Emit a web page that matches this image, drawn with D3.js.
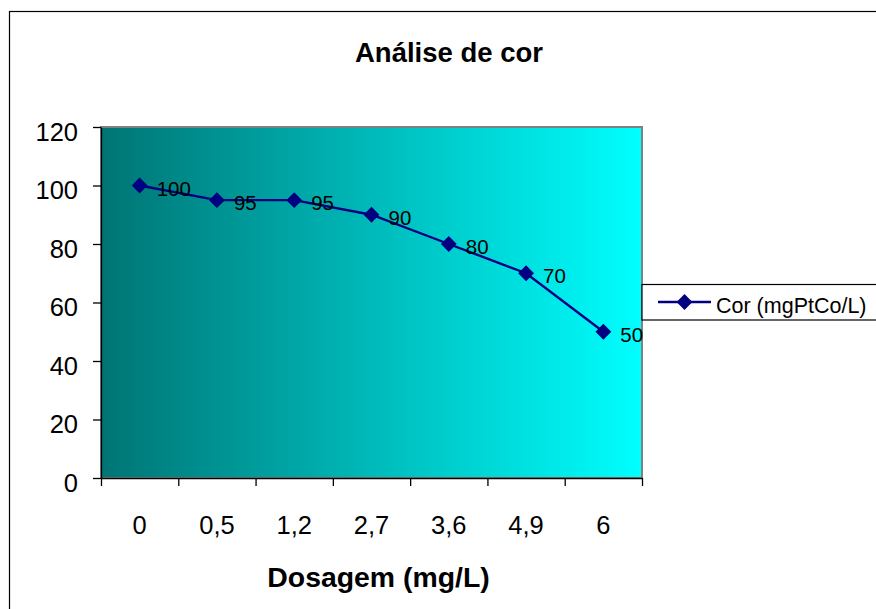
<!DOCTYPE html>
<html>
<head>
<meta charset="utf-8">
<script src="https://cdn.jsdelivr.net/npm/d3@7"></script>
<style>
  html, body { margin: 0; padding: 0; background: #fff; }
  svg { display: block; font-family: "Liberation Sans", Arial, Helvetica, sans-serif; }
</style>
</head>
<body>
<svg id="chart" width="876" height="609"></svg>
<script>
// Dosagem (mg/L) categories and measured colour values
const categories = ["0", "0,5", "1,2", "2,7", "3,6", "4,9", "6"];
const corValues = [100, 95, 95, 90, 80, 70, 50];
const yTicks = [0, 20, 40, 60, 80, 100, 120];
const seriesName = "Cor (mgPtCo/L)";
const chartTitle = "Análise de cor";
const xTitle = "Dosagem (mg/L)";

const svg = d3.select("#chart");
const plot = { left: 101, top: 127, right: 642, bottom: 478 };

// outer chart frame (runs off the right and bottom edges)
svg.append("rect")
  .attr("x", 9.5).attr("y", 11.5)
  .attr("width", 900).attr("height", 700)
  .attr("fill", "#fff").attr("stroke", "#000").attr("stroke-width", 1.2);

// teal -> turquoise gradient fill of the plot area
const defs = svg.append("defs");
const grad = defs.append("linearGradient").attr("id", "plotFill")
  .attr("x1", "0%").attr("x2", "100%").attr("y1", "0%").attr("y2", "0%");
grad.append("stop").attr("offset", "0%").attr("stop-color", "#007474");
grad.append("stop").attr("offset", "100%").attr("stop-color", "#00ffff");

const x = d3.scaleBand().domain(categories).range([plot.left, plot.right]).padding(0);
const xEdge = d3.scaleLinear().domain([0, categories.length]).range([plot.left, plot.right]);
const y = d3.scaleLinear().domain([0, 120]).range([plot.bottom, plot.top]);

svg.append("rect")
  .attr("x", plot.left).attr("y", plot.top)
  .attr("width", plot.right - plot.left).attr("height", plot.bottom - plot.top)
  .attr("fill", "url(#plotFill)")
  .attr("stroke", "#808080").attr("stroke-width", 2);

// y axis
const yAxis = svg.append("g")
  .attr("transform", `translate(${plot.left},0)`)
  .call(d3.axisLeft(y).tickValues(yTicks).tickSize(8).tickPadding(15).tickSizeOuter(0));
yAxis.selectAll("text").attr("font-size", 25.5).attr("fill", "#000").attr("dy", "0.52em")
  .style("font-family", "'Liberation Sans', Arial, sans-serif");
yAxis.selectAll("line, path").attr("stroke", "#000").attr("stroke-width", 1.3);

// x axis: boundary ticks
const xTickAxis = svg.append("g")
  .attr("transform", `translate(0,${plot.bottom})`)
  .call(d3.axisBottom(xEdge).tickValues(d3.range(categories.length + 1))
    .tickFormat("").tickSize(8).tickSizeOuter(0));
xTickAxis.selectAll("line, path").attr("stroke", "#000").attr("stroke-width", 1.3);

// x axis: category labels
const xLabelAxis = svg.append("g")
  .attr("transform", `translate(0,${plot.bottom})`)
  .call(d3.axisBottom(x).tickSize(0).tickPadding(38));
xLabelAxis.select("path").remove();
xLabelAxis.selectAll("text").attr("font-size", 25.5).attr("fill", "#000")
  .style("font-family", "'Liberation Sans', Arial, sans-serif");

// line series
const cx = d => x(d.cat) + x.bandwidth() / 2;
const pts = categories.map((c, i) => ({ cat: c, v: corValues[i] }));
svg.append("path")
  .datum(pts)
  .attr("fill", "none").attr("stroke", "#000080").attr("stroke-width", 2.4)
  .attr("d", d3.line().x(cx).y(d => y(d.v)));

// square markers turned 45° into diamonds
const diamond = d3.symbol().type(d3.symbolSquare).size(125);
svg.selectAll(".marker").data(pts).join("path")
  .attr("class", "marker")
  .attr("transform", d => `translate(${cx(d)},${y(d.v)}) rotate(45)`)
  .attr("d", diamond)
  .attr("fill", "#000080");

svg.selectAll(".vlabel").data(pts).join("text")
  .attr("class", "vlabel")
  .attr("x", d => cx(d) + 17).attr("y", d => y(d.v) + 10)
  .attr("font-size", 20.5).attr("fill", "#000")
  .text(d => d.v);

// titles
svg.append("text").attr("x", 449).attr("y", 62)
  .attr("text-anchor", "middle").attr("font-size", 27.5).attr("font-weight", "bold")
  .text(chartTitle);
svg.append("text").attr("x", 378.5).attr("y", 587)
  .attr("text-anchor", "middle").attr("font-size", 28.4).attr("font-weight", "bold")
  .text(xTitle);

// legend
const lg = svg.append("g");
lg.append("rect").attr("x", 642).attr("y", 284.5).attr("width", 240).attr("height", 35.5)
  .attr("fill", "#fff").attr("stroke", "#000").attr("stroke-width", 1.2);
lg.append("line").attr("x1", 658).attr("x2", 711).attr("y1", 302).attr("y2", 302)
  .attr("stroke", "#000080").attr("stroke-width", 2.4);
lg.append("path").attr("transform", "translate(684.5,302) rotate(45)")
  .attr("d", diamond).attr("fill", "#000080");
lg.append("text").attr("x", 716).attr("y", 313).attr("font-size", 21.5).attr("fill", "#000")
  .text(seriesName);
</script>
</body>
</html>
